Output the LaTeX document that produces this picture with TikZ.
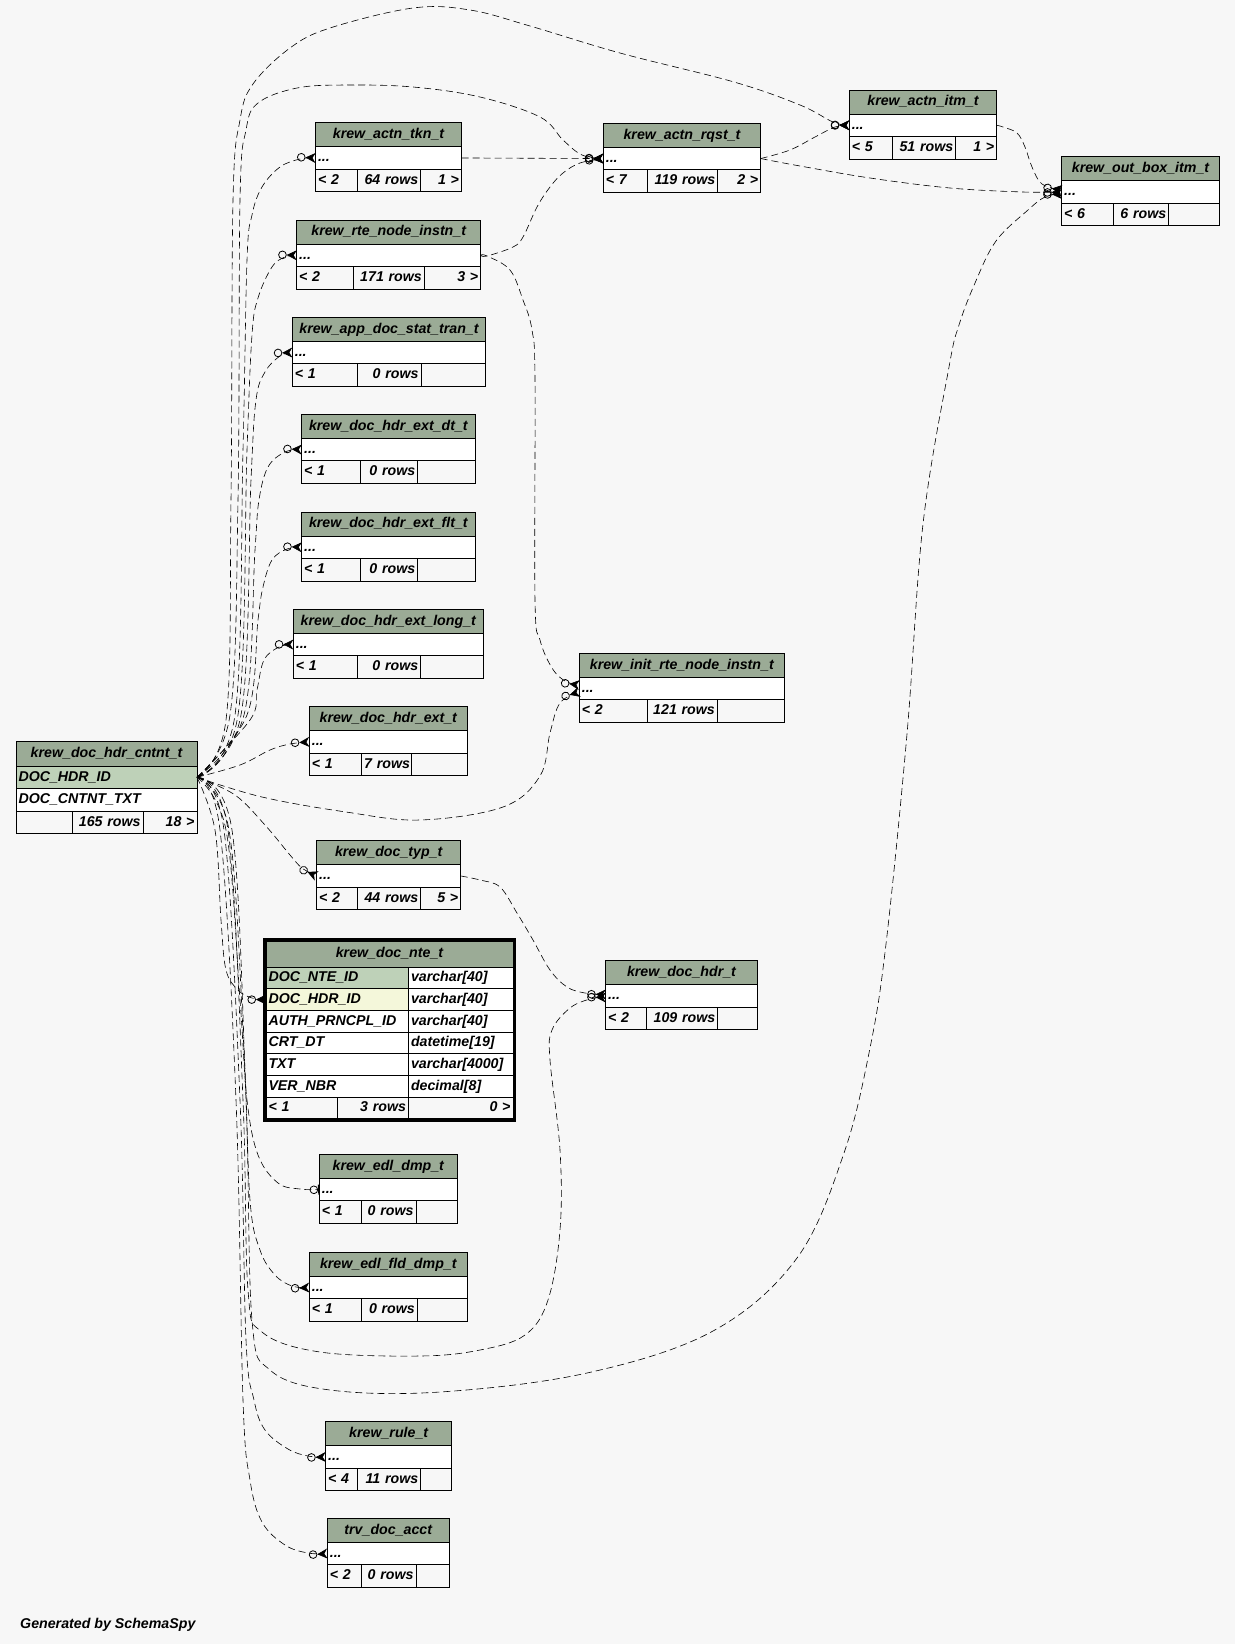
\documentclass[tikz,border=0pt]{standalone}
\usepackage{fontspec}
\setmainfont{Liberation Sans}
\usetikzlibrary{arrows.meta, fit}
\definecolor{PageGray}{HTML}{F7F7F7}
\definecolor{HeadGreen}{HTML}{9BAB96}
\definecolor{KeyGreen}{HTML}{BED1B8}
\definecolor{IndexYellow}{HTML}{F4F7DA}
\newcommand{\tblfont}{\fontsize{14.2}{17}\selectfont\bfseries\itshape}
\tikzset{
  cell/.style={draw, line width=0.9pt, inner xsep=2.5pt, inner ysep=0pt, outer sep=0pt,
    anchor=north west, minimum height=22.5pt, text height=11pt, text depth=3.5pt, font=\tblfont},
  headcell/.style={cell, fill=HeadGreen, minimum height=24pt, align=center},
  rowcell/.style={cell, fill=white, align=left},
  footcell/.style={cell},
  rel/.style={line width=0.6pt, dash pattern=on 7pt off 4pt},
  tomany/.style={rel, -{Circle[open, length=8.5pt, width=8.5pt, line width=0.8pt]Stealth[reversed, length=10pt, width=10pt, inset=3pt]}},
  toone/.style={rel, -{Circle[open, length=8.5pt, width=8.5pt, line width=0.8pt]Bar[width=10pt, line width=1.2pt]}},
}

\begin{document}
\begin{tikzpicture}[x=1pt, y=-1pt]
  \path[use as bounding box, fill=PageGray] (0,0) rectangle (1235,1644);

  % small tables: name / left / top / right / divider 1 / divider 2 / title / footer texts
  \foreach \n/\xa/\ya/\xb/\da/\db/\ttl/\fl/\fm/\fr in {
    tkn/315.5/122.7/461.5/357.3/420.7/krew\_actn\_tkn\_t/< 2/64 rows/1 >,
    rte/296.7/220/480.7/353.3/424.3/krew\_rte\_node\_instn\_t/< 2/171 rows/3 >,
    app/292.3/317.3/485.7/357.3/421/krew\_app\_doc\_stat\_tran\_t/< 1/0 rows/{},
    extdt/301.7/414.3/475/360.7/417.7/krew\_doc\_hdr\_ext\_dt\_t/< 1/0 rows/{},
    extflt/301.7/512/475/360.7/417.7/krew\_doc\_hdr\_ext\_flt\_t/< 1/0 rows/{},
    extlong/293.3/609.3/483.3/357.7/420.7/krew\_doc\_hdr\_ext\_long\_t/< 1/0 rows/{},
    ext/309.3/706.7/467.3/361.7/411.7/krew\_doc\_hdr\_ext\_t/< 1/7 rows/{},
    typ/316.7/840.7/460.7/357.3/420.7/krew\_doc\_typ\_t/< 2/44 rows/5 >,
    edl/319.3/1154.3/457.3/361.7/416/krew\_edl\_dmp\_t/< 1/0 rows/{},
    fld/309.3/1252.3/467.3/361.7/417.3/krew\_edl\_fld\_dmp\_t/< 1/0 rows/{},
    rule/325.7/1421.7/451.7/357.3/420.7/krew\_rule\_t/< 4/11 rows/{},
    trv/327.3/1518.3/449.3/361.7/416/trv\_doc\_acct/< 2/0 rows/{},
    rqst/603.3/123.3/760.7/647.7/717.7/krew\_actn\_rqst\_t/< 7/119 rows/2 >,
    itm/849.3/90/996.7/892.7/955.7/krew\_actn\_itm\_t/< 5/51 rows/1 >,
    obox/1061.7/156.7/1219.3/1113.3/1168.7/krew\_out\_box\_itm\_t/< 6/6 rows/{},
    init/579.3/653.3/784.3/647.3/717.3/krew\_init\_rte\_node\_instn\_t/< 2/121 rows/{},
    dhdr/605.7/960.7/757.3/646.7/717.7/krew\_doc\_hdr\_t/< 2/109 rows/{}%
  }{
    \pgfmathsetmacro\tw{\xb-\xa-5}
    \pgfmathsetmacro\twa{\da-\xa-5}
    \pgfmathsetmacro\twb{\db-\da-5}
    \pgfmathsetmacro\twc{\xb-\db-5}
    \node[headcell, text width=\tw pt] (\n-h) at (\xa,\ya) {\ttl};
    \node[rowcell, text width=\tw pt] (\n) at (\n-h.south west) {...};
    \node[footcell, text width=\twa pt, align=left] (\n-f1) at (\n.south west) {\fl};
    \node[footcell, text width=\twb pt, align=right] (\n-f2) at (\n-f1.north east) {\mbox{\fm}};
    \node[footcell, text width=\twc pt, align=right] (\n-f3) at (\n-f2.north east) {\fr};
  }

  % parent table
  \node[headcell, text width=176pt, minimum height=25pt] (cntnt-h) at (16,741) {krew\_doc\_hdr\_cntnt\_t};
  \node[rowcell, fill=KeyGreen, text width=176pt] (cntnt-k) at (cntnt-h.south west) {DOC\_HDR\_ID};
  \node[rowcell, text width=176pt] (cntnt-c) at (cntnt-k.south west) {DOC\_CNTNT\_TXT};
  \node[footcell, text width=51pt, align=left] (cntnt-f1) at (cntnt-c.south west) {};
  \node[footcell, text width=66pt, align=right] (cntnt-f2) at (cntnt-f1.north east) {165 rows};
  \node[footcell, text width=49pt, align=right] (cntnt-f3) at (cntnt-f2.north east) {18 >};

  % selected table
  \node[headcell, text width=242pt, minimum height=26pt] (nte-h) at (266,941) {krew\_doc\_nte\_t};
  \foreach \i/\cn/\ct/\cf in {1/DOC\_NTE\_ID/varchar[40]/KeyGreen, 2/DOC\_HDR\_ID/varchar[40]/IndexYellow,
      3/AUTH\_PRNCPL\_ID/varchar[40]/white, 4/CRT\_DT/datetime[19]/white,
      5/TXT/varchar[4000]/white, 6/VER\_NBR/decimal[8]/white}{
    \node[rowcell, fill=\cf, text width=137.5pt, minimum height=21.7pt] (nte-n\i) at (266,{967+(\i-1)*21.7}) {\cn};
    \node[rowcell, text width=99.5pt, minimum height=21.7pt] (nte-t\i) at (nte-n\i.north east) {\ct};
  }
  \node[footcell, text width=66.7pt, align=left, minimum height=21.7pt] (nte-f1) at (266,1097.2) {< 1};
  \node[footcell, text width=65.8pt, align=right, minimum height=21.7pt] (nte-f2) at (nte-f1.north east) {3 rows};
  \node[footcell, text width=99.5pt, align=right, minimum height=21.7pt] (nte-f3) at (nte-f2.north east) {0 >};
  \node[fit=(nte-h)(nte-f3), draw, line width=2.4pt, inner sep=1.6pt] (nte-frame) {};

  \node[anchor=base west, font=\tblfont] (credit) at (16.7,1628) {Generated by SchemaSpy};

  % relationships going up from krew_doc_hdr_cntnt_t
  \draw[tomany] plot[smooth, tension=0.6] coordinates {(cntnt-k.east) (226,720) (231,500) (233,200) (240,120) (253,84) (290,48) (330,28) (413,8) (470,10) (530,26) (620,53) (734,82) (800,105) (833,122) (itm.west)};
  \draw[tomany] plot[smooth, tension=0.6] coordinates {(cntnt-k.east) (230,715) (238,500) (240,200) (246,130) (258,103) (297,88) (347,85) (413,87) (480,97) (540,117) (563,140) (582,155) (rqst.west)};
  \draw[tomany] plot[smooth, tension=0.6] coordinates {(cntnt-k.east) (235,715) (243,450) (247,260) (252,215) (262,187) (280,167) (300,159) (tkn.west)};
  \draw[tomany] plot[smooth, tension=0.6] coordinates {(cntnt-k.east) (238,715) (247,450) (252,335) (258,298) (272,267) (285,257) (rte.west)};
  \draw[tomany] plot[smooth, tension=0.6] coordinates {(cntnt-k.east) (241,715) (251,480) (256,400) (265,372) (280,356) (app.west)};
  \draw[tomany] plot[smooth, tension=0.6] coordinates {(cntnt-k.east) (244,715) (255,550) (259,500) (268,467) (285,452) (extdt.west)};
  \draw[tomany] plot[smooth, tension=0.6] coordinates {(cntnt-k.east) (247,715) (258,620) (263,587) (272,560) (287,549) (extflt.west)};
  \draw[tomany] plot[smooth, tension=0.6] coordinates {(cntnt-k.east) (250,720) (257,690) (264,660) (279,647) (extlong.west)};
  \draw[tomany] plot[smooth, tension=0.6] coordinates {(cntnt-k.east) (240,765) (270,750) (290,744) (ext.west)};

  % relationships going down from krew_doc_hdr_cntnt_t
  \draw[tomany] plot[smooth, tension=0.6] coordinates {(cntnt-k.east) (235,795) (265,825) (290,855) (302,868) (typ.west)};
  \draw[tomany] plot[smooth, tension=0.6] coordinates {(cntnt-k.east) (215,830) (221,920) (226,970) (238,990) (252,998) (nte-n2.west)};
  \draw[toone] plot[smooth, tension=0.6] coordinates {(cntnt-k.east) (226,830) (240,1000) (247,1100) (258,1155) (278,1183) (300,1189) (edl.west)};
  \draw[tomany] plot[smooth, tension=0.6] coordinates {(cntnt-k.east) (229,830) (244,1050) (250,1200) (260,1250) (275,1275) (292,1286) (fld.west)};
  \draw[tomany] plot[smooth, tension=0.6] coordinates {(cntnt-k.east) (224,830) (240,1100) (246,1340) (254,1400) (265,1430) (288,1449) (308,1456) (rule.west)};
  \draw[tomany] plot[smooth, tension=0.6] coordinates {(cntnt-k.east) (220,830) (236,1100) (243,1400) (250,1480) (262,1522) (285,1545) (308,1553) (trv.west)};
  \draw[tomany] plot[smooth, tension=0.6] coordinates {(cntnt-k.east) (262,797) (346,812) (420,820) (503,807) (540,776) (550,733) (560,703) ([yshift=-3.5pt]init.west)};
  \draw[tomany] plot[smooth, tension=0.6] coordinates {(cntnt-k.east) (228,830) (243,1100) (248,1290) (262,1332) (320,1352) (420,1356) (480,1350) (525,1335) (548,1300) (560,1230) (560,1150) (550,1060) (552,1030) (570,1008) (590,999) ([yshift=-1.5pt]dhdr.west)};
  \draw[tomany] plot[smooth, tension=0.6] coordinates {(cntnt-k.east) (232,830) (246,1100) (252,1320) (270,1370) (330,1390) (440,1392) (587,1373) (713,1331) (797,1258) (844,1153) (870,1048) (886,944) (907,734) (923,524) (949,367) (959,325) (975,283) (996,241) (1028,210) (1045,197) ([yshift=-2pt]obox.west)};

  % other relationships
  \draw[tomany] (tkn.east) -- (rqst.west);
  \draw[tomany] plot[smooth, tension=0.6] coordinates {(rte.east) (487,256) (513,247) (523,237) (537,207) (550,187) (563,173) (580,163) (rqst.west)};
  \draw[tomany] plot[smooth, tension=0.6] coordinates {(rte.east) (487,256) (510,270) (523,300) (532,330) (535,380) (535,600) (540,640) (552,668) (565,681) ([yshift=3.5pt]init.west)};
  \draw[tomany] plot[smooth, tension=0.6] coordinates {(typ.east) (480,880) (500,887) (517,913) (533,940) (550,970) (567,987) (585,993) ([yshift=1.5pt]dhdr.west)};
  \draw[tomany] plot[smooth, tension=0.6] coordinates {(rqst.east) (790,150) (815,137) (835,127) (itm.west)};
  \draw[tomany] plot[smooth, tension=0.6] coordinates {(rqst.east) (800,166) (870,178) (950,188) (1023,192) (obox.west)};
  \draw[tomany] plot[smooth, tension=0.6] coordinates {(itm.east) (1003,127) (1017,133) (1025,147) (1032,167) (1042,184) ([yshift=2pt]obox.west)};
\end{tikzpicture}
\end{document}
